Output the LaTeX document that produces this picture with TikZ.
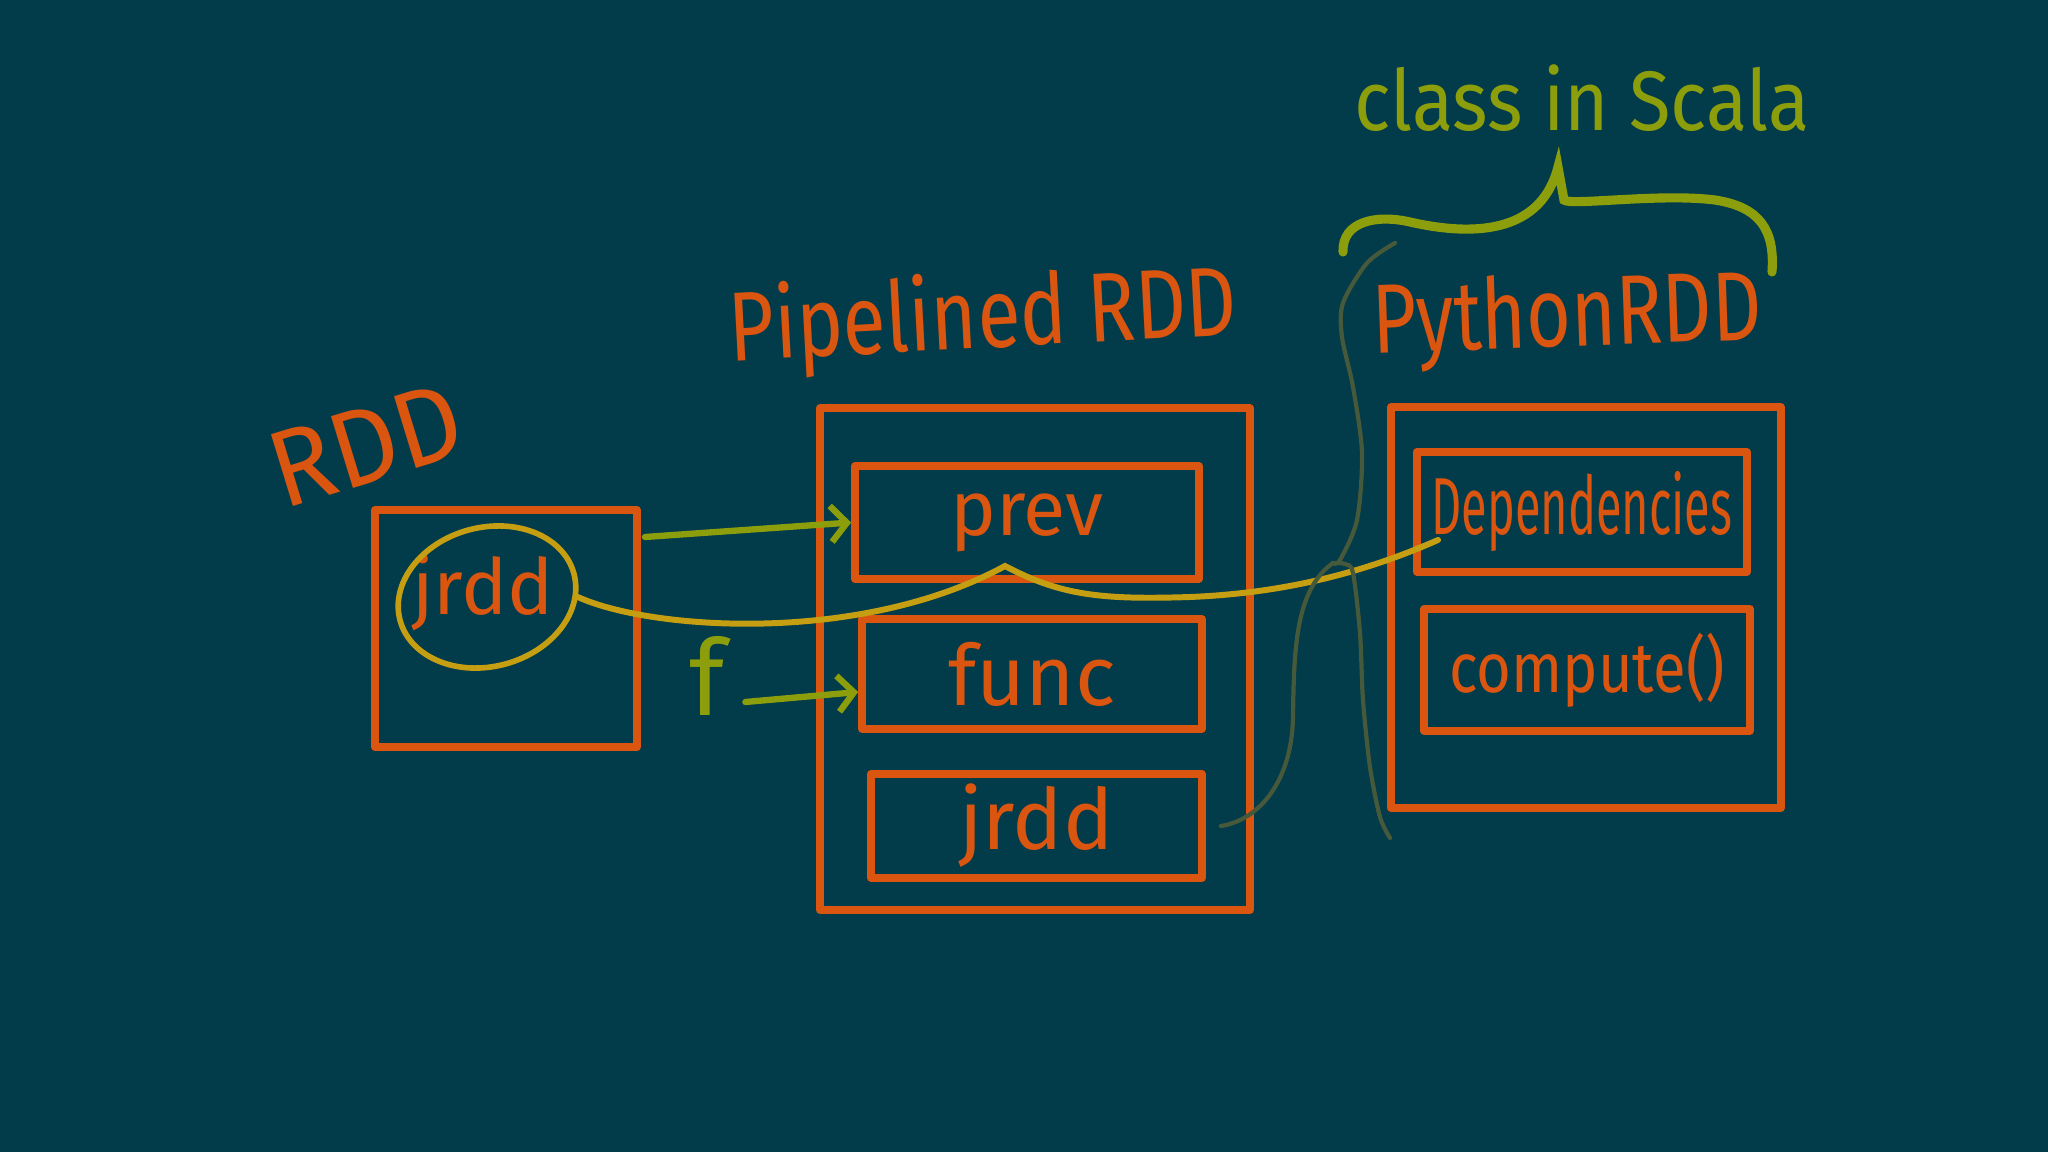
\documentclass[tikz,border=0pt]{standalone}
\usepackage{fontspec}
\setmainfont{Fira Sans}
\usepackage{graphicx}
\usetikzlibrary{calc,positioning,arrows.meta,shapes}
\definecolor{boardbg}{HTML}{023B49}
\definecolor{chalkorange}{HTML}{DA5510}
\definecolor{chalkgreen}{HTML}{8C9E0B}
\definecolor{chalkgold}{HTML}{C69E12}
\definecolor{chalkolive}{HTML}{46593A}
\newcommand{\hw}[3]{{\fontsize{#1}{#1}\selectfont\scalebox{#2}[1]{#3}}}

\begin{document}
\begin{tikzpicture}[y=-1cm]
\tikzstyle{every node} = [text=chalkorange, inner sep=0pt];
\tikzstyle{frame} = [draw=chalkorange, line width=2.2pt, line join=round, rectangle];
\tikzstyle{slot} = [frame];
\tikzstyle{ring} = [draw=chalkgold, ellipse, line width=1.6pt];
\tikzstyle{ptr} = [draw=chalkgreen, line width=1.8pt, line cap=round, -{Straight Barb[length=1.6mm,width=3.6mm]}];
\tikzstyle{link} = [draw=chalkgold, line width=1.7pt, line cap=round];
\tikzstyle{faint} = [draw=chalkolive, line width=1.2pt, line cap=round];
\tikzstyle{brace} = [draw=chalkgreen, line width=2.6pt, line cap=round];
\useasboundingbox (0,0) rectangle (20.48,11.52);
\fill[boardbg] (0,0) rectangle (20.48,11.52);

% RDD
\node[rotate=17] (rddT) at (3.66,4.45) {\hw{31}{0.95}{RDD}};
\node[frame, minimum width=2.62cm, minimum height=2.37cm] (rdd) at (5.06,6.285) {};
\node (jrddA) at (4.83,5.93) {\hw{22}{1}{jrdd}};
\node[ring, rotate=15, minimum width=1.8cm, minimum height=1.39cm] (ring) at (4.87,5.97) {};

% PipelinedRDD
\node[rotate=3] (pipeT) at (9.83,3.20) {\hw{28}{0.8}{Pipelined RDD}};
\node[frame, minimum width=4.3cm, minimum height=5.02cm] (pipe) at (10.35,6.59) {};
\node[slot, minimum width=3.44cm, minimum height=1.13cm] (prev) at (10.27,5.225) {\hw{22}{1}{prev}};
\node[slot, minimum width=3.40cm, minimum height=1.10cm] (func) at (10.32,6.74) {\hw{24}{1}{func}};
\node[slot, minimum width=3.31cm, minimum height=1.04cm] (jrddB) at (10.365,8.26) {\hw{24}{1}{jrdd}};

% PythonRDD
\node[rotate=2] (pyT) at (15.67,3.20) {\hw{28}{0.78}{PythonRDD}};
\node[frame, minimum width=3.90cm, minimum height=4.01cm] (py) at (15.86,6.075) {};
\node[slot, minimum width=3.30cm, minimum height=1.20cm] (dep) at (15.82,5.12) {\hw{23}{0.58}{Dependencies}};
\node[slot, minimum width=3.26cm, minimum height=1.22cm] (comp) at (15.87,6.70) {\hw{20}{0.85}{compute()}};

\node[text=chalkgreen] (scala) at (15.82,0.98) {\hw{24}{0.9}{class in Scala}};
\node[text=chalkgreen] (f) at (7.07,6.76) {\hw{30}{1}{f}};

\coordinate (rddout) at (6.45,5.37);
\coordinate (prevtip) at (10.05,5.66);
\coordinate (depin) at (14.38,5.40);
\coordinate (knot) at (13.33,5.63);

\draw[ptr] (rddout) -- (prev.west);
\draw[ptr] ([xshift=2mm,yshift=-2.6mm]f.east) -- ([yshift=-1.8mm]func.west);
\draw[link] (ring.345) .. controls (6.5,6.3) and (8.6,6.45) .. (prevtip)
  .. controls (10.6,5.95) and (11.0,6.0) .. (11.9,5.97)
  .. controls (12.9,5.93) and (13.7,5.7) .. (depin);

\draw[brace] (13.43,2.52) .. controls (13.42,2.22) and (13.75,2.14) .. (14.1,2.22)
  .. controls (14.8,2.38) and (15.42,2.3) .. (15.58,1.67) -- (15.64,2.0)
  .. controls (15.7,2.06) and (16.6,1.93) .. (17.15,2.0)
  .. controls (17.6,2.07) and (17.75,2.3) .. (17.72,2.72);

\draw[faint] plot[smooth] coordinates {(13.95,2.43) (13.67,2.63) (13.43,3.03) (13.42,3.37) (13.53,3.87) (13.62,4.53) (13.57,5.20) (13.40,5.60) (13.33,5.63)};
\draw[faint] plot[smooth] coordinates {(13.33,5.63) (13.45,5.64) (13.53,5.73) (13.60,6.33) (13.63,7.00) (13.70,7.67) (13.80,8.17) (13.90,8.38)};
\draw[faint] (knot) .. controls (12.95,5.9) and (12.94,6.5) .. (12.93,7.17)
  .. controls (12.92,7.8) and (12.6,8.2) .. ([xshift=1.5mm]jrddB.east);
\end{tikzpicture}
\end{document}
